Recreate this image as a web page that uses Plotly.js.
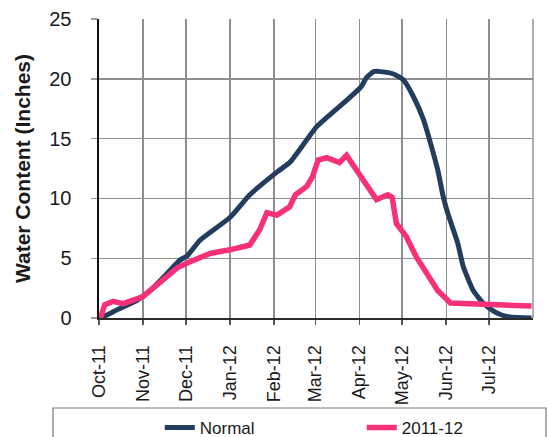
<!DOCTYPE html>
<html>
<head>
<meta charset="utf-8">
<script src="https://cdn.plot.ly/plotly-3.0.1.min.js"></script>
<style>
  html, body { margin: 0; padding: 0; background: #ffffff; }
  #chart { width: 548px; height: 437px; }
</style>
</head>
<body>
<div id="chart"></div>
<script>
// ---- Data ----
var normalDates = ["2011-10-01","2011-10-04","2011-10-14","2011-10-28","2011-11-06","2011-11-16","2011-11-27","2011-12-02","2011-12-11","2012-01-01","2012-01-15","2012-02-03","2012-02-12","2012-02-24","2012-03-02","2012-03-23","2012-04-02","2012-04-06","2012-04-11","2012-04-16","2012-04-25","2012-05-02","2012-05-09","2012-05-16","2012-05-21","2012-05-26","2012-05-30","2012-06-02","2012-06-09","2012-06-13","2012-06-20","2012-06-27","2012-07-04","2012-07-10","2012-07-16","2012-07-31"];
var normalValues = [0, 0.1, 0.7, 1.5, 2.3, 3.5, 4.85, 5.2, 6.5, 8.4, 10.3, 12.2, 13.0, 14.9, 16.0, 18.2, 19.3, 20.1, 20.6, 20.6, 20.4, 19.9, 18.5, 16.6, 14.6, 12.4, 10.1, 8.8, 6.3, 4.3, 2.3, 1.25, 0.6, 0.25, 0.08, 0];

var seasonDates = ["2011-10-02","2011-10-05","2011-10-11","2011-10-18","2011-10-25","2011-11-01","2011-11-08","2011-11-15","2011-11-25","2011-12-02","2011-12-11","2011-12-18","2012-01-01","2012-01-15","2012-01-22","2012-01-27","2012-02-03","2012-02-12","2012-02-16","2012-02-24","2012-02-28","2012-03-03","2012-03-09","2012-03-18","2012-03-23","2012-04-01","2012-04-06","2012-04-13","2012-04-21","2012-04-24","2012-04-27","2012-05-04","2012-05-11","2012-05-18","2012-05-26","2012-06-04","2012-06-13","2012-07-02","2012-07-31"];
var seasonValues = [0, 1.1, 1.4, 1.2, 1.5, 1.8, 2.5, 3.2, 4.2, 4.6, 5.1, 5.4, 5.7, 6.1, 7.4, 8.8, 8.6, 9.3, 10.3, 11.0, 11.8, 13.2, 13.4, 13.0, 13.6, 12.0, 11.3, 9.9, 10.3, 10.1, 7.9, 6.8, 5.1, 3.8, 2.3, 1.25, 1.2, 1.1, 1.0];

var tickDates = ["2011-10-01","2011-11-01","2011-12-01","2012-01-01","2012-02-01","2012-03-01","2012-04-01","2012-05-01","2012-06-01","2012-07-01"];
var tickLabels = ["Oct-11","Nov-11","Dec-11","Jan-12","Feb-12","Mar-12","Apr-12","May-12","Jun-12","Jul-12"];
var yTicks = [0, 5, 10, 15, 20, 25];

var seriesNames = ["Normal", "2011-12"];
var seriesColors = ["#233d5e", "#f7307a"];

var FONT = "Liberation Sans, Arial, sans-serif";
var TXT = "#1a1a1a";
var GRID = "#8e8e8e";

var traces = [
  {
    x: normalDates, y: normalValues, name: seriesNames[0],
    type: "scatter", mode: "lines",
    line: { color: seriesColors[0], width: 5, shape: "spline", smoothing: 0.5 }
  },
  {
    x: seasonDates, y: seasonValues, name: seriesNames[1],
    type: "scatter", mode: "lines",
    line: { color: seriesColors[1], width: 5.5 }
  }
];

var layout = {
  width: 548, height: 437,
  paper_bgcolor: "#ffffff", plot_bgcolor: "#ffffff",
  margin: { l: 99, r: 15, t: 19, b: 119, autoexpand: false },
  font: { family: FONT, color: TXT, size: 17 },
  showlegend: true,
  legend: {
    orientation: "h",
    x: 0.14, xanchor: "left",
    y: -0.368, yanchor: "middle",
    bgcolor: "rgba(0,0,0,0)",
    borderwidth: 0,
    entrywidth: 157,
    font: { family: FONT, size: 17, color: TXT }
  },
  xaxis: {
    type: "date",
    range: ["2011-10-01", "2012-08-01"],
    tickmode: "array",
    tickvals: tickDates,
    ticktext: tickLabels,
    tickangle: -90,
    tickfont: { family: FONT, size: 18, color: TXT },
    ticks: "outside", ticklen: 5, tickcolor: "#555555", tickwidth: 1.5,
    ticklabelstandoff: 13,
    showgrid: true, gridcolor: GRID, gridwidth: 1.4,
    showline: true, linecolor: "#2a2a2a", linewidth: 2,
    zeroline: false, fixedrange: true
  },
  yaxis: {
    range: [0, 25],
    tickmode: "array",
    tickvals: yTicks,
    tickfont: { family: FONT, size: 20, color: TXT },
    ticks: "outside", ticklen: 6, tickcolor: "#999999", tickwidth: 1.4,
    ticklabelstandoff: 15,
    showgrid: true, gridcolor: GRID, gridwidth: 1.4,
    showline: true, linecolor: "#111111", linewidth: 2.5,
    zeroline: false, fixedrange: true,
    title: {
      text: "<b>Water Content (Inches)</b>",
      font: { family: FONT, size: 21, color: TXT },
      standoff: 13
    }
  },
  shapes: [
    { type: "line", xref: "paper", yref: "paper", x0: 1, x1: 1, y0: 0, y1: 1,
      line: { color: GRID, width: 1.4 }, layer: "below" },
    { type: "rect", xref: "paper", yref: "paper",
      x0: (53 - 99) / 434, x1: (546 - 99) / 434,
      y0: (318 - 470) / 299, y1: (318 - 408) / 299,
      line: { color: "#7a7a7a", width: 1.2 }, fillcolor: "rgba(0,0,0,0)" }
  ]
};

Plotly.newPlot("chart", traces, layout, { staticPlot: true, displayModeBar: false });
</script>
</body>
</html>
